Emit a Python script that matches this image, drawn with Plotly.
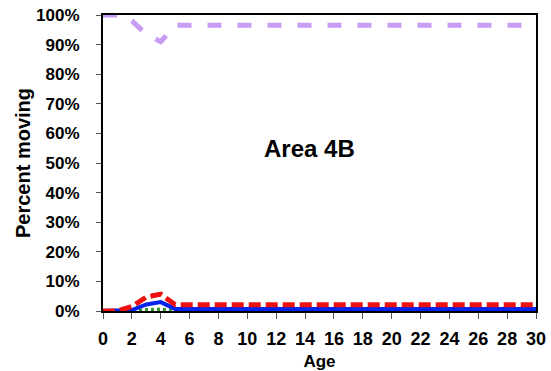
import plotly.graph_objects as go

ages = list(range(0, 31))
purple = [1.00, 1.00, 0.98, 0.935, 0.91] + [0.965] * 26
red = [0.0, 0.0, 0.015, 0.047, 0.057] + [0.021] * 26
blue = [0.0, 0.0, 0.003, 0.022, 0.03] + [0.007] * 26
green = [0.0, 0.0, 0.0, 0.003, 0.005] + [0.001] * 26

x_ticks = list(range(0, 31, 2))
y_ticks = [i / 10 for i in range(0, 11)]
y_labels = [f"{i * 10}%" for i in range(0, 11)]

fig = go.Figure()
fig.add_trace(go.Scatter(x=ages, y=green, mode="lines",
                         line=dict(color="#2e9a2e", width=4, dash="3px,3px"), showlegend=False))
fig.add_trace(go.Scatter(x=ages, y=blue, mode="lines",
                         line=dict(color="#0022ee", width=4), showlegend=False))
fig.add_trace(go.Scatter(x=ages, y=red, mode="lines",
                         line=dict(color="#ee1111", width=5, dash="12px,5px"), showlegend=False))
fig.add_trace(go.Scatter(x=ages, y=purple, mode="lines",
                         line=dict(color="#c89cf4", width=5, dash="14px,16px"), showlegend=False))

fig.add_annotation(x=14.3, y=0.55, text="<b>Area 4B</b>", showarrow=False,
                   font=dict(family="Liberation Sans, Arial", size=24, color="black"))

fig.update_layout(
    width=551, height=371,
    margin=dict(l=103, r=15, t=15, b=60, autoexpand=False),
    paper_bgcolor="white", plot_bgcolor="white",
    font=dict(family="Liberation Sans, Arial", color="black"),
    xaxis=dict(range=[0, 30], tickvals=x_ticks, ticktext=[f"<b>{v}</b>" for v in x_ticks],
               tickfont=dict(size=18), ticks="outside", ticklen=6, tickcolor="#555",
               ticklabelstandoff=4,
               showgrid=False, zeroline=False, showline=True, linecolor="black", linewidth=2,
               mirror=True, automargin=False, ticklabeloverflow="allow",
               title=dict(text="<b>Age</b>", font=dict(size=17), standoff=8)),
    yaxis=dict(range=[0, 1.0], tickvals=y_ticks, ticktext=[f"<b>{t}</b>" for t in y_labels],
               tickfont=dict(size=17), ticks="outside", ticklen=5, tickcolor="#555",
               ticklabelstandoff=13,
               showgrid=False, zeroline=False, showline=True, linecolor="black", linewidth=2,
               mirror=True, automargin=False, ticklabeloverflow="allow",
               title=dict(text="<b>Percent moving</b>", font=dict(size=20), standoff=0)),
)

fig.write_html("out.html", post_script="document.body.style.margin='0';",
               config={"displayModeBar": False})
